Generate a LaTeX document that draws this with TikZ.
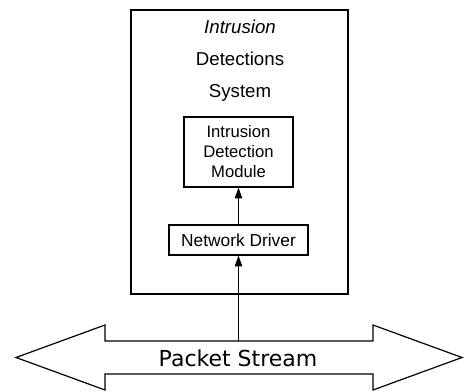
\documentclass[tikz,border=0pt]{standalone}
\usepackage{fontspec}
\setmainfont{Liberation Sans}
\newfontfamily\streamfont{DejaVu Sans}
\usetikzlibrary{arrows.meta,positioning}

\begin{document}
\begin{tikzpicture}[x=0.75pt,y=-0.75pt,>={Triangle[length=8pt,width=5.5pt]},line width=0.9pt,
  box/.style={draw,rectangle,inner sep=0pt,align=center},
  title text/.style={anchor=base,font=\fontsize{14}{16}\selectfont}]
    \useasboundingbox (0,0) rectangle (464,392);

    % system box and its title
    \node[box,minimum width=162.75pt,minimum height=213pt] (ids) at (239.5,152) {};
    \node[title text,font=\fontsize{14}{16}\selectfont\itshape] (t1) at (240,34) {Intrusion};
    \node[title text] (t2) at (240,66) {Detections};
    \node[title text] (t3) at (240,98) {System};

    \node[box,minimum width=81.75pt,minimum height=52.5pt,font=\fontsize{12.5}{15}\selectfont] (idm) at (238.5,152) {Intrusion\\Detection\\Module};
    \node[box,minimum width=104.25pt,minimum height=22.5pt,font=\fontsize{13}{15}\selectfont] (nd) at (238.5,240) {Network Driver};

    % packet stream
    \draw (16,357.5) -- (105,325) -- (105,341) -- (373,341) -- (373,325) -- (462,357.5)
        -- (373,390) -- (373,374) -- (105,374) -- (105,390) -- cycle;
    \coordinate (streamtop) at (238.5,341);
    \node[font=\streamfont\fontsize{16.5}{20}\selectfont] (stream) at (238,358) {Packet Stream};

    \draw[->] (nd) -- (idm);
    \draw[->] (streamtop) -- (nd);
\end{tikzpicture}
\end{document}
